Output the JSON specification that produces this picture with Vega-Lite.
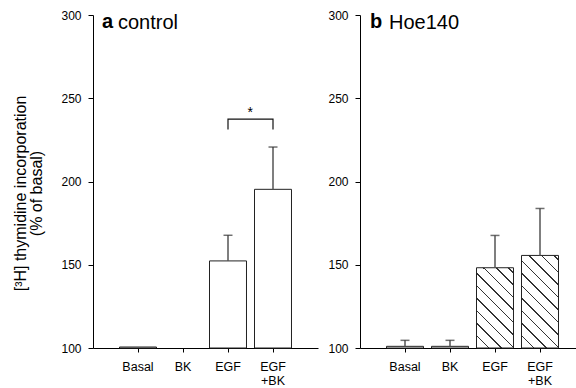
{
  "$schema": "https://vega.github.io/schema/vega-lite/v6.json",
  "padding": {"left": 12, "top": 9, "right": 0, "bottom": 0},
  "spacing": 9,
  "config": {
    "font": "Liberation Sans",
    "view": {"stroke": null},
    "axis": {"grid": false, "domainColor": "#000", "tickColor": "#000", "labelColor": "#000", "titleColor": "#000", "labelFontSize": 12, "labelFont": "Liberation Sans", "titleFont": "Liberation Sans"},
    "axisY": {"tickSize": 5, "labelPadding": 7},
    "axisX": {"tickSize": 4, "labelPadding": 8, "labelFontSize": 12.5}
  },
  "datasets": {
    "a": [
      {"c": "Basal", "v": 100.6},
      {"c": "EGF", "v": 152.3, "hi": 167.7},
      {"c": "EGF+BK", "v": 195.3, "hi": 220.7}
    ],
    "b": [
      {"c": "Basal", "v": 101, "hi": 104.6},
      {"c": "BK", "v": 101, "hi": 104.6},
      {"c": "EGF", "v": 148.2, "hi": 167.6},
      {"c": "EGF+BK", "v": 155.6, "hi": 183.8}
    ],
    "bracket": [
      {"c": "EGF", "v": 231.3, "o": 1},
      {"c": "EGF", "v": 237.5, "o": 2},
      {"c": "EGF+BK", "v": 237.5, "o": 3},
      {"c": "EGF+BK", "v": 231.3, "o": 4}
    ],
    "star": [{"c": "EGF", "v": 238.6, "s": "*"}]
  },
  "hconcat": [
    {
      "title": {"text": "a", "anchor": "start", "frame": "group", "orient": "top", "fontSize": 20, "fontWeight": "bold", "offset": -23, "dx": 9, "font": "Liberation Sans", "color": "#000"},
      "spacing": 0,
      "vconcat": [
        {
          "width": 225,
          "height": 333,
          "title": {"text": "control", "anchor": "start", "frame": "group", "orient": "top", "fontSize": 20, "fontWeight": "normal", "offset": -24, "dx": 25, "font": "Liberation Sans", "color": "#000"},
          "layer": [
            {
              "data": {"name": "a"},
              "mark": {"type": "bar", "fill": "white", "stroke": "#222", "strokeWidth": 1},
              "encoding": {
                "x": {"field": "c", "type": "nominal", "sort": null, "scale": {"domain": ["Basal", "BK", "EGF", "EGF+BK"], "paddingInner": 0.178, "paddingOuter": 0.589}, "axis": {"title": null, "labelAngle": 0, "labelExpr": "datum.value == 'EGF+BK' ? ['EGF', '+BK'] : datum.value"}},
                "y": {"field": "v", "type": "quantitative", "title": ["[³H] thymidine incorporation", "(% of basal)"], "scale": {"domain": [100, 300], "nice": false, "zero": false}, "axis": {"values": [100, 150, 200, 250, 300], "titleFontSize": 16, "titleFontWeight": "normal", "titlePadding": 16, "titleLineHeight": 16, "titleY": 178}},
                "y2": {"datum": 100}
              }
            },
            {
              "data": {"name": "a"},
              "transform": [{"filter": "datum.hi != null"}],
              "mark": {"type": "rule", "color": "#555", "strokeWidth": 1.5},
              "encoding": {
                "x": {"field": "c", "type": "nominal", "sort": null, "scale": {"domain": ["Basal", "BK", "EGF", "EGF+BK"]}},
                "y": {"field": "v", "type": "quantitative", "title": ["[³H] thymidine incorporation", "(% of basal)"]},
                "y2": {"field": "hi"}
              }
            },
            {
              "data": {"name": "a"},
              "transform": [{"filter": "datum.hi != null"}],
              "mark": {"type": "tick", "color": "#333", "thickness": 1.5, "size": 9, "orient": "horizontal"},
              "encoding": {
                "x": {"field": "c", "type": "nominal", "sort": null, "scale": {"domain": ["Basal", "BK", "EGF", "EGF+BK"]}},
                "y": {"field": "hi", "type": "quantitative", "title": ["[³H] thymidine incorporation", "(% of basal)"]}
              }
            },
            {
              "data": {"name": "bracket"},
              "mark": {"type": "line", "color": "#111", "strokeWidth": 1.2},
              "encoding": {
                "x": {"field": "c", "type": "nominal", "sort": null, "scale": {"domain": ["Basal", "BK", "EGF", "EGF+BK"]}},
                "y": {"field": "v", "type": "quantitative", "title": ["[³H] thymidine incorporation", "(% of basal)"]},
                "order": {"field": "o"}
              }
            },
            {
              "data": {"name": "star"},
              "mark": {"type": "text", "fontSize": 14, "font": "Liberation Sans", "color": "#000", "baseline": "alphabetic", "align": "center"},
              "encoding": {
                "x": {"field": "c", "type": "nominal", "sort": null, "bandPosition": 1.1, "scale": {"domain": ["Basal", "BK", "EGF", "EGF+BK"]}},
                "y": {"field": "v", "type": "quantitative", "title": ["[³H] thymidine incorporation", "(% of basal)"]},
                "text": {"field": "s"}
              }
            }
          ]
        }
      ]
    },
    {
      "title": {"text": "b", "anchor": "start", "frame": "group", "orient": "top", "fontSize": 20, "fontWeight": "bold", "offset": -23, "dx": 10, "font": "Liberation Sans", "color": "#000"},
      "spacing": 0,
      "vconcat": [
        {
          "width": 225,
          "height": 333,
          "title": {"text": "Hoe140", "anchor": "start", "frame": "group", "orient": "top", "fontSize": 20, "fontWeight": "normal", "offset": -24, "dx": 29, "font": "Liberation Sans", "color": "#000"},
          "layer": [
            {
              "data": {"name": "b"},
              "mark": {"type": "bar", "stroke": "#222", "strokeWidth": 1},
              "encoding": {
                "x": {"field": "c", "type": "nominal", "sort": null, "scale": {"domain": ["Basal", "BK", "EGF", "EGF+BK"], "paddingInner": 0.178, "paddingOuter": 0.589}, "axis": {"title": null, "labelAngle": 0, "labelExpr": "datum.value == 'EGF+BK' ? ['EGF', '+BK'] : datum.value"}},
                "y": {"field": "v", "type": "quantitative", "title": null, "scale": {"domain": [100, 300], "nice": false, "zero": false}, "axis": {"values": [100, 150, 200, 250, 300]}},
                "y2": {"datum": 100},
                "fill": {
                  "condition": [
                    {"test": "datum.c === 'EGF'", "value": {"gradient": "linear", "x1": 0, "y1": 1, "x2": 0.554, "y2": -0.205, "stops": [
                      {"offset": 0, "color": "#ffffff"},
                      {"offset": 0.0999, "color": "#ffffff"}, {"offset": 0.0999, "color": "#333333"}, {"offset": 0.1129, "color": "#333333"}, {"offset": 0.1129, "color": "#ffffff"},
                      {"offset": 0.2063, "color": "#ffffff"}, {"offset": 0.2063, "color": "#333333"}, {"offset": 0.2193, "color": "#333333"}, {"offset": 0.2193, "color": "#ffffff"},
                      {"offset": 0.3126, "color": "#ffffff"}, {"offset": 0.3126, "color": "#333333"}, {"offset": 0.3256, "color": "#333333"}, {"offset": 0.3256, "color": "#ffffff"},
                      {"offset": 0.4190, "color": "#ffffff"}, {"offset": 0.4190, "color": "#333333"}, {"offset": 0.4320, "color": "#333333"}, {"offset": 0.4320, "color": "#ffffff"},
                      {"offset": 0.5254, "color": "#ffffff"}, {"offset": 0.5254, "color": "#333333"}, {"offset": 0.5384, "color": "#333333"}, {"offset": 0.5384, "color": "#ffffff"},
                      {"offset": 0.6318, "color": "#ffffff"}, {"offset": 0.6318, "color": "#333333"}, {"offset": 0.6448, "color": "#333333"}, {"offset": 0.6448, "color": "#ffffff"},
                      {"offset": 0.7382, "color": "#ffffff"}, {"offset": 0.7382, "color": "#333333"}, {"offset": 0.7512, "color": "#333333"}, {"offset": 0.7512, "color": "#ffffff"},
                      {"offset": 0.8446, "color": "#ffffff"}, {"offset": 0.8446, "color": "#333333"}, {"offset": 0.8576, "color": "#333333"}, {"offset": 0.8576, "color": "#ffffff"},
                      {"offset": 0.9509, "color": "#ffffff"}, {"offset": 0.9509, "color": "#333333"}, {"offset": 0.9639, "color": "#333333"}, {"offset": 0.9639, "color": "#ffffff"},
                      {"offset": 1, "color": "#ffffff"}
                    ]}},
                    {"test": "datum.c === 'EGF+BK'", "value": {"gradient": "linear", "x1": 0, "y1": 1, "x2": 0.481, "y2": -0.207, "stops": [
                      {"offset": 0, "color": "#ffffff"},
                      {"offset": 0.0905, "color": "#ffffff"}, {"offset": 0.0905, "color": "#333333"}, {"offset": 0.1025, "color": "#333333"}, {"offset": 0.1025, "color": "#ffffff"},
                      {"offset": 0.1871, "color": "#ffffff"}, {"offset": 0.1871, "color": "#333333"}, {"offset": 0.1991, "color": "#333333"}, {"offset": 0.1991, "color": "#ffffff"},
                      {"offset": 0.2836, "color": "#ffffff"}, {"offset": 0.2836, "color": "#333333"}, {"offset": 0.2956, "color": "#333333"}, {"offset": 0.2956, "color": "#ffffff"},
                      {"offset": 0.3801, "color": "#ffffff"}, {"offset": 0.3801, "color": "#333333"}, {"offset": 0.3921, "color": "#333333"}, {"offset": 0.3921, "color": "#ffffff"},
                      {"offset": 0.4767, "color": "#ffffff"}, {"offset": 0.4767, "color": "#333333"}, {"offset": 0.4887, "color": "#333333"}, {"offset": 0.4887, "color": "#ffffff"},
                      {"offset": 0.5732, "color": "#ffffff"}, {"offset": 0.5732, "color": "#333333"}, {"offset": 0.5852, "color": "#333333"}, {"offset": 0.5852, "color": "#ffffff"},
                      {"offset": 0.6697, "color": "#ffffff"}, {"offset": 0.6697, "color": "#333333"}, {"offset": 0.6817, "color": "#333333"}, {"offset": 0.6817, "color": "#ffffff"},
                      {"offset": 0.7662, "color": "#ffffff"}, {"offset": 0.7662, "color": "#333333"}, {"offset": 0.7782, "color": "#333333"}, {"offset": 0.7782, "color": "#ffffff"},
                      {"offset": 0.8628, "color": "#ffffff"}, {"offset": 0.8628, "color": "#333333"}, {"offset": 0.8748, "color": "#333333"}, {"offset": 0.8748, "color": "#ffffff"},
                      {"offset": 0.9593, "color": "#ffffff"}, {"offset": 0.9593, "color": "#333333"}, {"offset": 0.9713, "color": "#333333"}, {"offset": 0.9713, "color": "#ffffff"},
                      {"offset": 1, "color": "#ffffff"}
                    ]}}
                  ],
                  "value": "#ffffff"
                }
              }
            },
            {
              "data": {"name": "b"},
              "transform": [{"filter": "datum.hi != null"}],
              "mark": {"type": "rule", "color": "#555", "strokeWidth": 1.5},
              "encoding": {
                "x": {"field": "c", "type": "nominal", "sort": null, "scale": {"domain": ["Basal", "BK", "EGF", "EGF+BK"]}},
                "y": {"field": "v", "type": "quantitative", "title": null},
                "y2": {"field": "hi"}
              }
            },
            {
              "data": {"name": "b"},
              "transform": [{"filter": "datum.hi != null"}],
              "mark": {"type": "tick", "color": "#333", "thickness": 1.5, "size": 9, "orient": "horizontal"},
              "encoding": {
                "x": {"field": "c", "type": "nominal", "sort": null, "scale": {"domain": ["Basal", "BK", "EGF", "EGF+BK"]}},
                "y": {"field": "hi", "type": "quantitative", "title": null}
              }
            }
          ]
        }
      ]
    }
  ]
}
